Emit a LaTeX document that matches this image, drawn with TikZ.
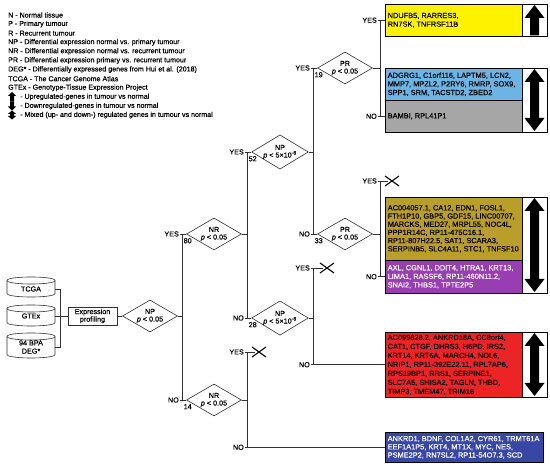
\documentclass[tikz,border=0pt]{standalone}
\usepackage{fontspec}
\setmainfont{Liberation Sans}[UprightFeatures={FakeBold=0.45},ItalicFeatures={FakeBold=0.45}]
\usetikzlibrary{shapes.geometric,calc}
\definecolor{cyel}{RGB}{255,242,0}
\definecolor{cblu}{RGB}{108,180,228}
\definecolor{cgry}{RGB}{166,166,166}
\definecolor{coli}{RGB}{186,158,42}
\definecolor{cpur}{RGB}{152,62,178}
\definecolor{cred}{RGB}{236,36,38}
\definecolor{cnav}{RGB}{56,70,166}
\definecolor{cline}{RGB}{50,50,50}
% cylinder: x0 x1 top bottom
\newcommand\mycyl[4]{%
\draw[draw=cline,line width=0.6pt,fill=white] (#1,#3+3.5) -- (#1,#4-3.5) .. controls (#1,#4+1.17) and (#2,#4+1.17) .. (#2,#4-3.5) -- (#2,#3+3.5) .. controls (#2,#3-1.17) and (#1,#3-1.17) .. (#1,#3+3.5) -- cycle;
\draw[draw=cline,line width=0.6pt] (#1,#3+3.5) .. controls (#1,#3+8.17) and (#2,#3+8.17) .. (#2,#3+3.5);}
% big arrows: cx top bottom
\newcommand\bigup[3]{\fill[black] (#1,#2) -- (#1+10,#2+13) -- (#1+4.5,#2+13) -- (#1+4.5,#3) -- (#1-4.5,#3) -- (#1-4.5,#2+13) -- (#1-10,#2+13) -- cycle;}
\newcommand\bigboth[3]{\fill[black] (#1,#2) -- (#1+10,#2+13) -- (#1+4.5,#2+13) -- (#1+4.5,#3-13) -- (#1+10,#3-13) -- (#1,#3) -- (#1-10,#3-13) -- (#1-4.5,#3-13) -- (#1-4.5,#2+13) -- (#1-10,#2+13) -- cycle;}
% small legend arrows: cx top bottom
\newcommand\smup[3]{\fill[black] (#1,#2) -- (#1+4.2,#2+4) -- (#1+2,#2+4) -- (#1+2,#3) -- (#1-2,#3) -- (#1-2,#2+4) -- (#1-4.2,#2+4) -- cycle;}
\newcommand\smdown[3]{\fill[black] (#1,#3) -- (#1+4.2,#3-4) -- (#1+2,#3-4) -- (#1+2,#2) -- (#1-2,#2) -- (#1-2,#3-4) -- (#1-4.2,#3-4) -- cycle;}
\newcommand\smboth[3]{\fill[black] (#1,#2) -- (#1+4.2,#2+3.5) -- (#1+2,#2+3.5) -- (#1+2,#3-3.5) -- (#1+4.2,#3-3.5) -- (#1,#3) -- (#1-4.2,#3-3.5) -- (#1-2,#3-3.5) -- (#1-2,#2+3.5) -- (#1-4.2,#2+3.5) -- cycle;}
\newcommand\xcross[1]{\draw[line width=1.1pt,black] ($(#1)+(-7,-5)$) -- ($(#1)+(7,5)$) ($(#1)+(-7,5)$) -- ($(#1)+(7,-5)$);}
\begin{document}
\begin{tikzpicture}[x=1pt,y=-1pt,
 ln/.style={draw=cline, line width=0.6pt},
 dia/.style={diamond, draw=cline, line width=0.6pt, fill=white, minimum width=55pt, minimum height=32pt, inner sep=0pt, aspect=1.65, align=center, font=\fontsize{7.2}{7.6}\selectfont},
 lab/.style={inner sep=0pt, font=\fontsize{7.2}{8}\selectfont},
 legtxt/.style={inner sep=0pt, anchor=west, font=\fontsize{7.1}{8}\selectfont},
 gbox/.style={draw=black, line width=0.5pt, anchor=north west, minimum width=137pt, inner sep=0pt},
 gtxt/.style={inner sep=0pt, anchor=west, align=left, font=\fontsize{7.4}{8.6}\selectfont},
 acol/.style={draw=black, line width=0.5pt, fill=white, anchor=north west, minimum width=25pt, inner sep=0pt}
]
\fill[white] (0,0) rectangle (550,470);
\useasboundingbox (0,0) rectangle (550,470);

% ---------------- legend
\node[legtxt] (l1) at (8,15) {N - Normal tissue};
\node[legtxt] (l2) at (8,24.1) {P - Primary tumour};
\node[legtxt] (l3) at (8,33.2) {R - Recurrent tumour};
\node[legtxt] (l4) at (8,42.3) {NP - Differential expression normal vs. primary tumour};
\node[legtxt] (l5) at (8,51.4) {NR - Differential expression normal vs. recurrent tumour};
\node[legtxt] (l6) at (8,60.5) {PR - Differential expression primary vs. recurrent tumour};
\node[legtxt] (l7) at (8,69.6) {DEG* - Differentially expressed genes from Hui et al. (2018)};
\node[legtxt] (l8) at (8,78.7) {TCGA - The Cancer Genome Atlas};
\node[legtxt] (l9) at (8,87.8) {GTEx - Genotype-Tissue Expression Project};
\smup{12}{92}{101.5}
\node[legtxt] (l10) at (20,96.9) {- Upregulated-genes in tumour vs normal};
\smdown{12}{101.5}{110.5}
\node[legtxt] (l11) at (20,106) {- Downregulated-genes in tumour vs normal};
\smboth{12}{110.5}{119.5}
\node[legtxt] (l12) at (20,115.1) {- Mixed (up- and down-) regulated genes in tumour vs normal};

% ---------------- data sources
\mycyl{7}{55}{277}{297}
\node[lab, minimum width=48pt, minimum height=12pt] (tcga) at (31,289) {TCGA};
\mycyl{7}{55}{305}{326}
\node[lab, minimum width=48pt, minimum height=12pt] (gtex) at (31,316) {GTEx};
\mycyl{7}{55}{333}{358}
\node[lab, minimum width=48pt, minimum height=16pt, align=center, font=\fontsize{7.2}{8.2}\selectfont] (deg) at (31,347) {94 BPA\\DEG*};
\coordinate (sj) at (60,316);
\node[draw=cline, line width=0.6pt, fill=white, minimum width=49pt, minimum height=18pt, inner sep=0pt, align=center, font=\fontsize{7.2}{7.6}\selectfont] (expr) at (92.5,316) {Expression\\profiling};
\draw[ln] (tcga.east) -| (sj);
\draw[ln] (deg.east) -| (sj);
\draw[ln] (gtex.east) -- (expr.west);

% ---------------- decision diamonds
\node[dia] (np1) at (150,316) {NP\\\textit{p} < 0.05};
\node[dia] (nr80) at (214,234) {NR\\\textit{p} < 0.05};
\node[dia] (nr14) at (214,400) {NR\\\textit{p} < 0.05};
\node[dia] (np52) at (280,152) {NP\\\textit{p} < 5×10\textsuperscript{-6}};
\node[dia] (np28) at (280,318) {NP\\\textit{p} < 5×10\textsuperscript{-6}};
\node[dia] (pr19) at (345,68) {PR\\\textit{p} < 0.05};
\node[dia] (pr33) at (345,234) {PR\\\textit{p} < 0.05};
\draw[ln] (expr.east) -- (np1.west);

% ---------------- gene boxes
\node[gbox, fill=cyel, minimum height=32pt] (yel) at (385,4) {};
\node[acol, minimum height=32pt] (yelc) at (522,4) {};
\node[gtxt] (yelt) at ($(yel.west)+(2.5,0)$) {NDUFB5, RARRES3,\\RN7SK, TNFRSF11B};
\bigup{534.5}{5}{35.5}

\node[gbox, fill=cblu, minimum height=32pt] (blu) at (385,68) {};
\node[gbox, fill=cgry, minimum height=32pt] (gry) at (385,100) {};
\node[acol, minimum height=64pt] (bluc) at (522,68) {};
\node[gtxt] (blut) at ($(blu.west)+(2.5,0)$) {ADGRG1, C1orf116, LAPTM5, LCN2,\\MMP7, MPZL2, P2RY6, RMRP, SOX9,\\SPP1, SRM, TACSTD2, ZBED2};
\node[gtxt] (gryt) at ($(gry.west)+(2.5,0)$) {BAMBI, RPL41P1};
\bigboth{534.5}{69}{131}

\node[gbox, fill=coli, minimum height=63pt] (oli) at (385,197) {};
\node[gbox, fill=cpur, minimum height=33pt] (pur) at (385,260) {};
\node[acol, minimum height=96pt] (olic) at (522,197) {};
\node[gtxt, font=\fontsize{7.4}{8.2}\selectfont] (olit) at ($(oli.west)+(2.5,0)$) {AC004057.1, CA12, EDN1, FOSL1,\\FTH1P10, GBP5, GDF15, LINC00707,\\MARCKS, MED27, MRPL55, NOC4L,\\PPP1R14C, RP11-475C16.1,\\RP11-807H22.5, SAT1, SCARA3,\\SERPINB5, SLC4A11, STC1, TNFSF10};
\node[gtxt, text=white] (purt) at ($(pur.west)+(2.5,0)$) {AXL, CGNL1, DDIT4, HTRA1, KRT13,\\LIMA1, RASSF6, RP11-460N11.2,\\SNAI2, THBS1, TPTE2P5};
\bigboth{534.5}{198}{292}

\node[gbox, fill=cred, minimum height=65pt] (red) at (385,332) {};
\node[acol, minimum height=65pt] (redc) at (522,332) {};
\node[gtxt, font=\fontsize{7.4}{9}\selectfont] (redt) at ($(red.west)+(2.5,0)$) {AC099828.2, ANKRD18A, CC8orf4,\\CAT1, CTGF, DHRS3, H6PD, IRS2,\\KRT14, KRT6A, MARCH4, NOL6,\\NRIP1, RP11-392E22.11, RPL7AP6,\\RPS19BP1, RRS1, SERPINE1,\\SLC7A5, SHISA2, TAGLN, THBD,\\TIMP3, TMEM47, TRIM16};
\bigboth{534.5}{333}{396}

\node[gbox, fill=cnav, minimum width=158pt, minimum height=30pt] (nav) at (385,432) {};
\node[gtxt, text=white, font=\fontsize{7.4}{8.2}\selectfont] (navt) at ($(nav.west)+(2.5,0)$) {ANKRD1, BDNF, COL1A2, CYR61, TRMT61A\\EEF1A1P5, KRT4, MT1X, MYC, NES,\\PSME2P2, RN7SL2, RP11-54O7.3, SCD};

% ---------------- split 1: NP p<0.05
\coordinate (s1) at (182,316);
\draw[ln] (np1.east) -- (s1);
\draw[ln] ($(nr80.west -| s1)+(-2,0)$) -- (nr80.west);
\draw[ln] ($(nr14.west -| s1)+(-2,0)$) -- (nr14.west);
\draw[ln] (nr80.west -| s1) -- (nr14.west -| s1);
\node[lab, anchor=east] (y1) at ($(nr80.west -| s1)+(-3,0)$) {YES};
\node[lab, anchor=north west] (n80) at ($(nr80.west -| s1)+(1.5,4)$) {80};
\node[lab, anchor=east] (no1) at ($(nr14.west -| s1)+(-3,0)$) {NO};
\node[lab, anchor=north west] (n14) at ($(nr14.west -| s1)+(1.5,4)$) {14};

% ---------------- split 2: NR (80)
\coordinate (s2) at (247,234);
\draw[ln] (nr80.east) -- (s2);
\draw[ln] ($(np52.west -| s2)+(-2,0)$) -- (np52.west);
\draw[ln] ($(np28.west -| s2)+(-2,0)$) -- (np28.west);
\draw[ln] (np52.west -| s2) -- (np28.west -| s2);
\node[lab, anchor=east] (y2) at ($(np52.west -| s2)+(-3,0)$) {YES};
\node[lab, anchor=north west] (n52) at ($(np52.west -| s2)+(1.5,4)$) {52};
\node[lab, anchor=east] (no2) at ($(np28.west -| s2)+(-3,0)$) {NO};
\node[lab, anchor=north west] (n28) at ($(np28.west -| s2)+(1.5,4)$) {28};

% ---------------- split 3: NP (52)
\coordinate (s3) at (313,152);
\draw[ln] (np52.east) -- (s3);
\draw[ln] ($(pr19.west -| s3)+(-2,0)$) -- (pr19.west);
\draw[ln] ($(pr33.west -| s3)+(-2,0)$) -- (pr33.west);
\draw[ln] (pr19.west -| s3) -- (pr33.west -| s3);
\node[lab, anchor=east] (y3) at ($(pr19.west -| s3)+(-3,0)$) {YES};
\node[lab, anchor=north west] (n19) at ($(pr19.west -| s3)+(1.5,4)$) {19};
\node[lab, anchor=east] (no3) at ($(pr33.west -| s3)+(-3,0)$) {NO};
\node[lab, anchor=north west] (n33) at ($(pr33.west -| s3)+(1.5,4)$) {33};

% ---------------- split 4: NP (28)
\coordinate (s4) at (313,318);
\coordinate (t4) at (313,268);
\coordinate (x4) at (327,268);
\draw[ln] (np28.east) -- (s4);
\draw[ln] ($(t4)+(-2,0)$) -- ($(x4)+(-4,0)$);
\draw[ln] ($(red.west -| s4)+(-2,0)$) -- (red.west);
\draw[ln] (t4) -- (red.west -| s4);
\xcross{x4}
\node[lab, anchor=east] (y4) at ($(t4)+(-3,0)$) {YES};
\node[lab, anchor=east] (no4) at ($(red.west -| s4)+(-3,0)$) {NO};

% ---------------- split 5: NR (14)
\coordinate (s5) at (247,400);
\coordinate (t5) at (247,352);
\coordinate (x5) at (259,352);
\draw[ln] (nr14.east) -- (s5);
\draw[ln] ($(t5)+(-2,0)$) -- ($(x5)+(-4,0)$);
\draw[ln] ($(nav.west -| s5)+(-2,0)$) -- (nav.west);
\draw[ln] (t5) -- (nav.west -| s5);
\xcross{x5}
\node[lab, anchor=east] (y5) at ($(t5)+(-3,0)$) {YES};
\node[lab, anchor=east] (no5) at ($(nav.west -| s5)+(-3,0)$) {NO};

% ---------------- split 6: PR (19)
\coordinate (s6) at (380,68);
\draw[ln] (pr19.east) -- (s6);
\draw[ln] ($(yel.west -| s6)+(-2,0)$) -- (yel.west);
\draw[ln] ($(gry.west -| s6)+(-2,0)$) -- (gry.west);
\draw[ln] (yel.west -| s6) -- (gry.west -| s6);
\node[lab, anchor=east] (y6) at ($(yel.west -| s6)+(-3,0)$) {YES};
\node[lab, anchor=east] (no6) at ($(gry.west -| s6)+(-3,0)$) {NO};

% ---------------- split 7: PR (33)
\coordinate (s7) at (380,234);
\coordinate (t7) at (380,181);
\coordinate (x7) at (392,181);
\draw[ln] (pr33.east) -- (s7);
\draw[ln] ($(t7)+(-2,0)$) -- ($(x7)+(-4,0)$);
\draw[ln] ($(pur.west -| s7)+(-2,0)$) -- (pur.west);
\draw[ln] (t7) -- (pur.west -| s7);
\xcross{x7}
\node[lab, anchor=east] (y7) at ($(t7)+(-3,0)$) {YES};
\node[lab, anchor=east] (no7) at ($(pur.west -| s7)+(-3,0)$) {NO};
\end{tikzpicture}
\end{document}
